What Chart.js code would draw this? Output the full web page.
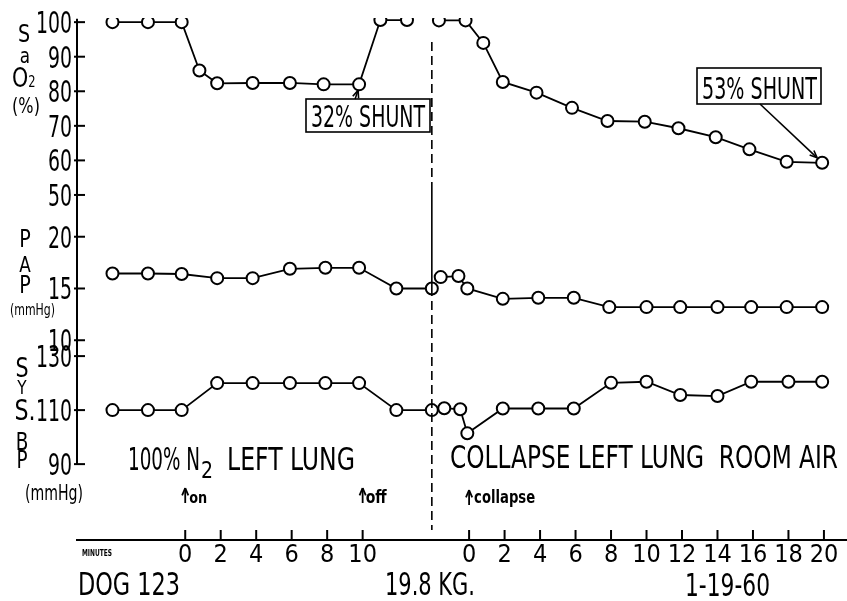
<!DOCTYPE html>
<html>
<head>
<meta charset="utf-8">
<script src="https://cdn.jsdelivr.net/npm/chart.js@4.4.1/dist/chart.umd.min.js"></script>
<style>
  html, body { margin: 0; padding: 0; background: #fff; }
</style>
</head>
<body>
<canvas id="chart" width="847" height="601"></canvas>
<script>
// the collapse run is drawn 16 min to the right of the N2 run on one shared axis
const POST_OFFSET = 16;
const dividerMin = 13.9;

const preTicks = [0, 2, 4, 6, 8, 10];
const postTicks = [0, 2, 4, 6, 8, 10, 12, 14, 16, 18, 20];
const sao2Ticks = [50, 60, 70, 80, 90, 100];
const papTicks = [10, 15, 20];
const bpTicks = [90, 110, 130];

// SaO2 (%)
const sao2PreMin = [-4.1, -2.1, -0.2, 0.8, 1.8, 3.8, 5.9, 7.8, 9.8, 11.0, 12.5];
const sao2PreVal = [100, 100, 100, 86, 82.3, 82.4, 82.4, 82, 82, 100.6, 100.6];
const sao2PostMin = [-1.7, -0.2, 0.8, 1.9, 3.8, 5.8, 7.8, 9.9, 11.8, 13.9, 15.8, 17.9, 19.9];
const sao2PostVal = [100.5, 100.5, 94, 82.7, 79.6, 75.2, 71.4, 71.2, 69.3, 66.7, 63.2, 59.6, 59.3];

// PAP (mmHg)
const papPreMin = [-4.1, -2.1, -0.2, 1.8, 3.8, 5.9, 7.9, 9.8, 11.9, 13.9];
const papPreVal = [16.45, 16.45, 16.4, 16.0, 16.0, 16.9, 17.0, 17.0, 15.0, 15.0];
const papPostMin = [-1.6, -0.6, -0.1, 1.9, 3.9, 5.9, 7.9, 10, 11.9, 14, 15.9, 17.9, 19.9];
const papPostVal = [16.1, 16.2, 15.0, 14.0, 14.1, 14.1, 13.2, 13.2, 13.2, 13.2, 13.2, 13.2, 13.2];

// systolic BP (mmHg)
const bpPreMin = [-4.1, -2.1, -0.2, 1.8, 3.8, 5.9, 7.9, 9.8, 11.9, 13.9];
const bpPreVal = [110, 110, 110, 120, 120, 120, 120, 120, 110, 110];
const bpPostMin = [-1.4, -0.5, -0.1, 1.9, 3.9, 5.9, 8, 10, 11.9, 14, 15.9, 18, 19.9];
const bpPostVal = [110.7, 110.3, 101.4, 110.6, 110.6, 110.6, 120.1, 120.5, 115.6, 115.2, 120.5, 120.5, 120.5];

const FONT = '"DejaVu Sans Condensed", "DejaVu Sans", sans-serif';

function pts(mins, vals, offset) {
    return mins.map((m, i) => ({ x: m + offset, y: vals[i] }));
}

function series(mins, vals, offset, axis) {
    return {
        data: pts(mins, vals, offset),
        yAxisID: axis,
        borderColor: '#000',
        borderWidth: 1.8,
        pointRadius: 6,
        pointBorderWidth: 2,
        pointBackgroundColor: '#fff',
        pointBorderColor: '#000',
        tension: 0
    };
}

// text squeezed to a given width, left edge at `left`
function fitText(ctx, text, left, right, baseline, cap, weight) {
    const size = cap / 0.72;
    ctx.font = (weight || 'normal') + ' ' + size + 'px ' + FONT;
    const w = ctx.measureText(text).width;
    ctx.save();
    ctx.translate(left, baseline);
    ctx.scale((right - left) / w, 1);
    ctx.textAlign = 'left';
    ctx.textBaseline = 'alphabetic';
    ctx.fillText(text, 0, 0);
    ctx.restore();
}

// text with a fixed horizontal squeeze
function squeezed(ctx, text, x, baseline, size, sx, align) {
    ctx.save();
    ctx.font = size + 'px ' + FONT;
    ctx.translate(x, baseline);
    ctx.scale(sx, 1);
    ctx.textAlign = align;
    ctx.textBaseline = 'alphabetic';
    ctx.fillText(text, 0, 0);
    ctx.restore();
}

function glyph(ctx, text, cx, baseline, size) {
    squeezed(ctx, text, cx, baseline, size, 0.85, 'center');
}

function line(ctx, x1, y1, x2, y2) {
    ctx.beginPath();
    ctx.moveTo(x1, y1);
    ctx.lineTo(x2, y2);
    ctx.stroke();
}

function arrow(ctx, x1, y1, x2, y2) {
    line(ctx, x1, y1, x2, y2);
    const a = Math.atan2(y2 - y1, x2 - x1);
    ctx.beginPath();
    ctx.moveTo(x2, y2);
    ctx.lineTo(x2 - 8 * Math.cos(a - 0.4), y2 - 8 * Math.sin(a - 0.4));
    ctx.moveTo(x2, y2);
    ctx.lineTo(x2 - 8 * Math.cos(a + 0.4), y2 - 8 * Math.sin(a + 0.4));
    ctx.stroke();
}

const decor = {
    id: 'decor',
    afterDraw(chart) {
        const ctx = chart.ctx;
        const area = chart.chartArea;
        const x = chart.scales.x;
        const ys = chart.scales.ySao2, yp = chart.scales.yPap, yb = chart.scales.yBp;
        ctx.save();
        ctx.strokeStyle = '#000';
        ctx.fillStyle = '#000';
        ctx.lineWidth = 2;

        // left axis line, tick marks and narrow hand-lettered tick labels
        line(ctx, area.left, ys.getPixelForValue(101), area.left, yb.getPixelForValue(90));
        [ys, yp, yb].forEach(s => {
            s.ticks.forEach(t => {
                const py = s.getPixelForValue(t.value);
                line(ctx, area.left - 3, py, area.left + 8, py);
                squeezed(ctx, String(t.value), area.left - 5, py + 11, 30, 0.7, 'right');
            });
        });

        // minutes tick marks, pointing up
        x.ticks.forEach(t => {
            const px = x.getPixelForValue(t.value);
            line(ctx, px, area.bottom, px, area.bottom - 10);
        });

        // divider between the two runs
        const dx = x.getPixelForValue(dividerMin);
        ctx.lineWidth = 1.6;
        ctx.setLineDash([9, 5]);
        line(ctx, dx, 42, dx, 190);
        line(ctx, dx, 287, dx, 530);
        ctx.setLineDash([]);
        line(ctx, dx, 190, dx, 287);

        // axis titles
        glyph(ctx, 'S', 24, 42, 25);
        glyph(ctx, 'a', 25, 63, 22);
        glyph(ctx, 'O', 20, 87, 27);
        glyph(ctx, '2', 32, 87, 15);
        glyph(ctx, '(%)', 26, 113, 21);

        glyph(ctx, 'P', 25, 247, 25);
        glyph(ctx, 'A', 25, 272, 22);
        glyph(ctx, 'P', 25, 293, 25);
        fitText(ctx, '(mmHg)', 10, 55, 315, 12);

        glyph(ctx, 'S', 22, 377, 27);
        glyph(ctx, 'Y', 22, 394, 20);
        glyph(ctx, 'S.', 25, 420, 29);
        glyph(ctx, 'B', 22, 450, 24);
        glyph(ctx, 'P', 22, 468, 24);
        fitText(ctx, '(mmHg)', 25, 83, 500, 15);

        // phase labels
        fitText(ctx, '100% N', 128, 200, 470, 23);
        fitText(ctx, '2', 201, 213, 478, 17);
        fitText(ctx, 'LEFT LUNG', 227, 355, 470, 23);
        fitText(ctx, 'COLLAPSE LEFT LUNG  ROOM AIR', 450, 838, 468, 23);

        // event markers
        ctx.lineWidth = 1.8;
        const onX = x.getPixelForValue(0);
        const offX = x.getPixelForValue(10);
        const colX = x.getPixelForValue(POST_OFFSET);
        arrow(ctx, onX, 503, onX, 488);
        arrow(ctx, offX, 503, offX, 488);
        arrow(ctx, colX, 505, colX, 490);
        fitText(ctx, 'on', onX + 4, onX + 22, 503, 11, 'bold');
        fitText(ctx, 'off', offX + 3, offX + 24, 503, 13, 'bold');
        fitText(ctx, 'collapse', colX + 5, colX + 66, 503, 13, 'bold');

        // footer
        fitText(ctx, 'MINUTES', 82, 112, 556, 6, 'bold');
        fitText(ctx, 'DOG 123', 78, 180, 595, 23);
        fitText(ctx, '19.8 KG.', 385, 475, 595, 23);
        fitText(ctx, '1-19-60', 685, 770, 596, 23);

        // shunt callouts
        ctx.lineWidth = 1.6;
        ctx.strokeRect(306, 99, 124, 33);
        fitText(ctx, '32% SHUNT', 311, 425, 127, 22);
        const p32x = x.getPixelForValue(sao2PreMin[8]);
        const p32y = ys.getPixelForValue(sao2PreVal[8]);
        arrow(ctx, p32x - 4, 99, p32x - 1, p32y + 6);

        ctx.strokeRect(697, 68, 124, 36);
        fitText(ctx, '53% SHUNT', 702, 817, 99, 22);
        const last = sao2PostMin.length - 1;
        const p53x = x.getPixelForValue(sao2PostMin[last] + POST_OFFSET);
        const p53y = ys.getPixelForValue(sao2PostVal[last]);
        arrow(ctx, 760, 104, p53x - 5, p53y - 5);

        ctx.restore();
    }
};

const yCommon = {
    type: 'linear',
    position: 'left',
    stack: 'left',
    ticks: { display: false, autoSkip: false },
    grid: { display: false, drawTicks: false },
    border: { display: false },
    afterFit: s => { s.width = 77; s.paddingTop = 0; s.paddingBottom = 0; }
};

new Chart(document.getElementById('chart'), {
    type: 'line',
    data: {
        datasets: [
            series(sao2PreMin, sao2PreVal, 0, 'ySao2'),
            series(sao2PostMin, sao2PostVal, POST_OFFSET, 'ySao2'),
            series(papPreMin, papPreVal, 0, 'yPap'),
            series(papPostMin, papPostVal, POST_OFFSET, 'yPap'),
            series(bpPreMin, bpPreVal, 0, 'yBp'),
            series(bpPostMin, bpPostVal, POST_OFFSET, 'yBp')
        ]
    },
    options: {
        responsive: false,
        animation: false,
        devicePixelRatio: 1,
        layout: { autoPadding: false, padding: { top: 18, left: 0, right: 0, bottom: 0 } },
        plugins: { legend: { display: false }, tooltip: { enabled: false } },
        scales: {
            x: {
                type: 'linear',
                min: -6.1,
                max: 37.3,
                afterBuildTicks: s => {
                    s.ticks = preTicks.map(v => ({ value: v }))
                        .concat(postTicks.map(v => ({ value: v + POST_OFFSET })));
                },
                ticks: {
                    autoSkip: false, maxRotation: 0, padding: 0, color: '#000',
                    font: { family: FONT, size: 25 },
                    callback: v => v > 12 ? v - POST_OFFSET : v
                },
                grid: { display: false, drawTicks: false },
                border: { display: true, color: '#000', width: 2 },
                afterFit: s => { s.height = 61; s.paddingLeft = 0; s.paddingRight = 0; }
            },
            ySao2: Object.assign({}, yCommon, {
                weight: 3, stackWeight: 197, min: 44.2, max: 101.2,
                afterBuildTicks: s => { s.ticks = sao2Ticks.map(v => ({ value: v })); }
            }),
            yPap: Object.assign({}, yCommon, {
                weight: 2, stackWeight: 133, min: 9.25, max: 22.1,
                afterBuildTicks: s => { s.ticks = papTicks.map(v => ({ value: v })); }
            }),
            yBp: Object.assign({}, yCommon, {
                weight: 1, stackWeight: 192, min: 61.9, max: 133,
                afterBuildTicks: s => { s.ticks = bpTicks.map(v => ({ value: v })); }
            })
        }
    },
    plugins: [decor]
});
</script>
</body>
</html>
